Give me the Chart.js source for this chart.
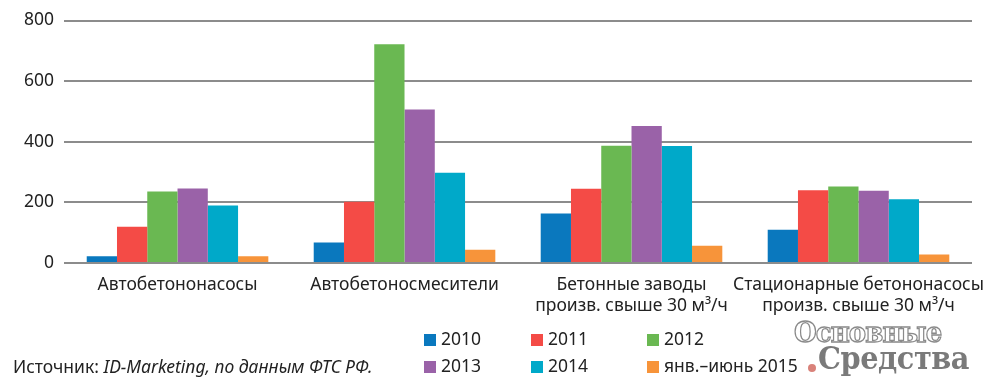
<!DOCTYPE html>
<html>
<head>
<meta charset="utf-8">
<script src="https://cdn.jsdelivr.net/npm/chart.js@4/dist/chart.umd.min.js"></script>
<style>
    html, body { margin: 0; padding: 0; background: #fff; }
    #wrap { position: relative; width: 1000px; height: 390px; overflow: hidden; font-family: "Noto Sans", sans-serif; color: #222; }
    #chart { position: absolute; left: 0; top: 0; }
    .leg { position: absolute; font-size: 17.5px; line-height: 20px; white-space: nowrap; }
    .leg span { display: inline-block; width: 12px; height: 12px; margin-right: 5px; vertical-align: -1px; }
    #src { position: absolute; left: 13px; top: 354px; font-size: 17.5px; white-space: nowrap; }
    #logo1 { position: absolute; left: 794px; top: 316px; font-family: "DejaVu Serif", serif; font-weight: bold; font-size: 28px; color: #fff;
             -webkit-text-stroke: 1.3px #8a8a8a; letter-spacing: -1px; transform: scaleX(0.93); transform-origin: left; }
    #logo2 { position: absolute; left: 818px; top: 340px; font-family: "DejaVu Serif", serif; font-weight: bold; font-size: 31px; color: #7a7a7a; letter-spacing: -0.5px; transform: scaleX(0.93); transform-origin: left; }
    #dot { position: absolute; left: 808px; top: 364px; width: 8px; height: 8px; border-radius: 50%; background: #d9827a; }
</style>
</head>
<body>
<div id="wrap">
    <canvas id="chart" width="1000" height="390"></canvas>
    <div id="legend"></div>
    <div id="src">Источник: <i>ID-Marketing, по данным ФТС РФ.</i></div>
    <div id="logo1">Основные</div>
    <div id="logo2">Средства</div>
    <div id="dot"></div>
</div>
<script>
// категории и значения
let categories = [
    "Автобетононасосы",
    "Автобетоносмесители",
    ["Бетонные заводы", "произв. свыше 30 м³/ч"],
    ["Стационарные бетононасосы", "произв. свыше 30 м³/ч"]
];
let seriesNames = ["2010", "2011", "2012", "2013", "2014", "янв.–июнь 2015"];
let seriesColors = ["#0a78be", "#f44b46", "#6ab852", "#9a62a8", "#00a9c9", "#f7943a"];
let v2010 = [22, 68, 163, 110];
let v2011 = [120, 202, 245, 240];
let v2012 = [236, 722, 387, 252];
let v2013 = [246, 506, 452, 238];
let v2014 = [190, 298, 386, 210];
let v2015 = [22, 44, 57, 28];
let yTicks = [0, 200, 400, 600, 800];

let values = [v2010, v2011, v2012, v2013, v2014, v2015];

function makeDatasets() {
    let ds = [];
    for (let i = 0; i < values.length; i++) {
        ds.push({
            label: seriesNames[i],
            data: values[i],
            backgroundColor: seriesColors[i],
            borderWidth: 0
        });
    }
    return ds;
}

// легенда в три колонки
function makeLegend() {
    let box = document.getElementById("legend");
    let colX = [424, 531, 647];
    let rowY = [328, 355];
    for (let i = 0; i < seriesNames.length; i++) {
        let el = document.createElement("div");
        el.className = "leg";
        el.style.left = colX[i % 3] + "px";
        el.style.top = rowY[Math.floor(i / 3)] + "px";
        el.innerHTML = '<span style="background:' + seriesColors[i] + '"></span>' + seriesNames[i];
        box.appendChild(el);
    }
}

let ctx = document.getElementById("chart").getContext("2d");
let chart = new Chart(ctx, {
    type: "bar",
    data: {
        labels: categories,
        datasets: makeDatasets()
    },
    options: {
        responsive: false,
        animation: false,
        layout: { padding: { left: 14, right: 28, top: 20, bottom: 69 } },
        plugins: {
            legend: { display: false },
            tooltip: { enabled: false }
        },
        datasets: {
            bar: { categoryPercentage: 0.8, barPercentage: 1.0 }
        },
        scales: {
            x: {
                grid: { display: false },
                border: { display: false },
                ticks: {
                    color: "#222",
                    font: { family: "Noto Sans", size: 17.5 },
                    padding: 4,
                    maxRotation: 0,
                    autoSkip: false
                }
            },
            y: {
                min: 0,
                max: 800,
                afterBuildTicks: function (axis) {
                    axis.ticks = yTicks.map(function (v) { return { value: v }; });
                },
                grid: { color: "#8c8c8c", lineWidth: 2, drawTicks: false },
                border: { display: false },
                ticks: {
                    color: "#222",
                    font: { family: "Noto Sans", size: 17.5 },
                    padding: 10
                }
            }
        }
    }
});
makeLegend();
</script>
</body>
</html>
